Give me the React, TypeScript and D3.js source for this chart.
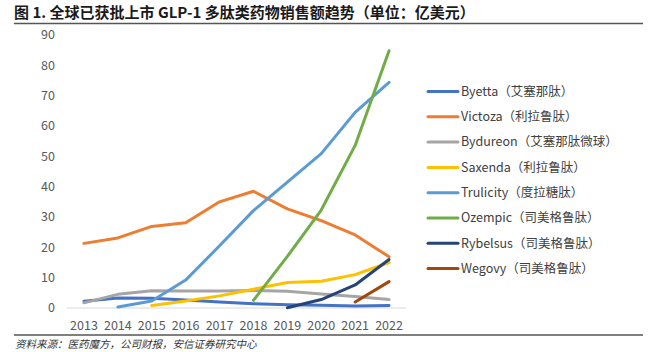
import React from "react";
import * as d3 from "d3";

const width = 664;
const height = 352;

const years = ["2013", "2014", "2015", "2016", "2017", "2018", "2019", "2020", "2021", "2022"];
const yTicks = [0, 10, 20, 30, 40, 50, 60, 70, 80, 90];

// null = not on market yet
const byetta = [2.2, 3.3, 3.2, 2.6, 2.0, 1.4, 1.1, 0.9, 0.7, 0.8];
const victoza = [21.3, 23.1, 26.9, 28.1, 35.0, 38.5, 32.7, 28.8, 24.1, 16.9];
const bydureon = [1.7, 4.5, 5.7, 5.6, 5.6, 5.8, 5.5, 4.6, 3.8, 2.8];
const saxenda = [null, null, 0.8, 2.3, 4.0, 6.2, 8.4, 8.8, 11.0, 15.0];
const trulicity = [null, 0.3, 2.3, 9.2, 20.5, 32.1, 41.5, 50.9, 64.5, 74.4];
const ozempic = [null, null, null, null, null, 2.5, 17.0, 32.3, 53.6, 84.8];
const rybelsus = [null, null, null, null, null, null, 0.1, 2.8, 7.6, 16.0];
const wegovy = [null, null, null, null, null, null, null, null, 2.0, 8.7];

const seriesNames = [
  "Byetta（艾塞那肽）",
  "Victoza（利拉鲁肽）",
  "Bydureon（艾塞那肽微球）",
  "Saxenda（利拉鲁肽）",
  "Trulicity（度拉糖肽）",
  "Ozempic（司美格鲁肽）",
  "Rybelsus（司美格鲁肽）",
  "Wegovy（司美格鲁肽）",
];
const seriesValues = [byetta, victoza, bydureon, saxenda, trulicity, ozempic, rybelsus, wegovy];
const colors = ["#4472C4", "#ED7D31", "#A5A5A5", "#FFC000", "#5B9BD5", "#70AD47", "#264478", "#9E480E"];

const font = "'Noto Sans CJK SC', 'Noto Sans', sans-serif";

export default function App() {
  const x = d3.scaleBand().domain(years).range([67, 406]);
  const y = d3.scaleLinear().domain([0, 90]).range([308, 35]);
  const cx = (yr: string) => (x(yr) as number) + x.bandwidth() / 2;

  const line = d3
    .line<number | null>()
    .defined((d) => d !== null)
    .x((d, i) => cx(years[i]))
    .y((d) => y(d as number));

  return (
    <svg
      width={width}
      height={height}
      style={{ position: "absolute", left: 0, top: 0, background: "#fff" }}
      fontFamily={font}
    >
      <text x={14} y={18} fontSize={15} fontWeight="bold" fill="#1a1a1a">
        图 1. 全球已获批上市 GLP-1 多肽类药物销售额趋势（单位：亿美元）
      </text>
      <line x1={14} x2={643} y1={23.5} y2={23.5} stroke="#555" strokeWidth={1.5} />

      {yTicks.map((t) => (
        <text key={t} x={55} y={y(t)} dy="0.35em" textAnchor="end" fontSize={12.5} fill="#595959">
          {t}
        </text>
      ))}
      <line x1={67} x2={406} y1={y(0)} y2={y(0)} stroke="#d9d9d9" strokeWidth={1} />
      {years.map((yr) => (
        <text key={yr} x={cx(yr)} y={330} textAnchor="middle" fontSize={12.5} fill="#595959">
          {yr}
        </text>
      ))}

      {seriesValues.map((vals, i) => (
        <path
          key={seriesNames[i]}
          d={line(vals) || ""}
          fill="none"
          stroke={colors[i]}
          strokeWidth={3}
          strokeLinejoin="round"
          strokeLinecap="round"
        />
      ))}

      {seriesNames.map((name, i) => {
        const ly = 91.5 + i * 25.3;
        return (
          <g key={name}>
            <line x1={428} x2={458} y1={ly} y2={ly} stroke={colors[i]} strokeWidth={3} strokeLinecap="round" />
            <text x={461} y={ly} dy="0.35em" fontSize={12.5} fill="#404040">
              {name}
            </text>
          </g>
        );
      })}

      <line x1={14} x2={643} y1={335} y2={335} stroke="#555" strokeWidth={1.5} />
      <text x={15} y={348} fontSize={10.5} fontStyle="italic" fill="#333">
        资料来源：医药魔方，公司财报，安信证券研究中心
      </text>
    </svg>
  );
}
